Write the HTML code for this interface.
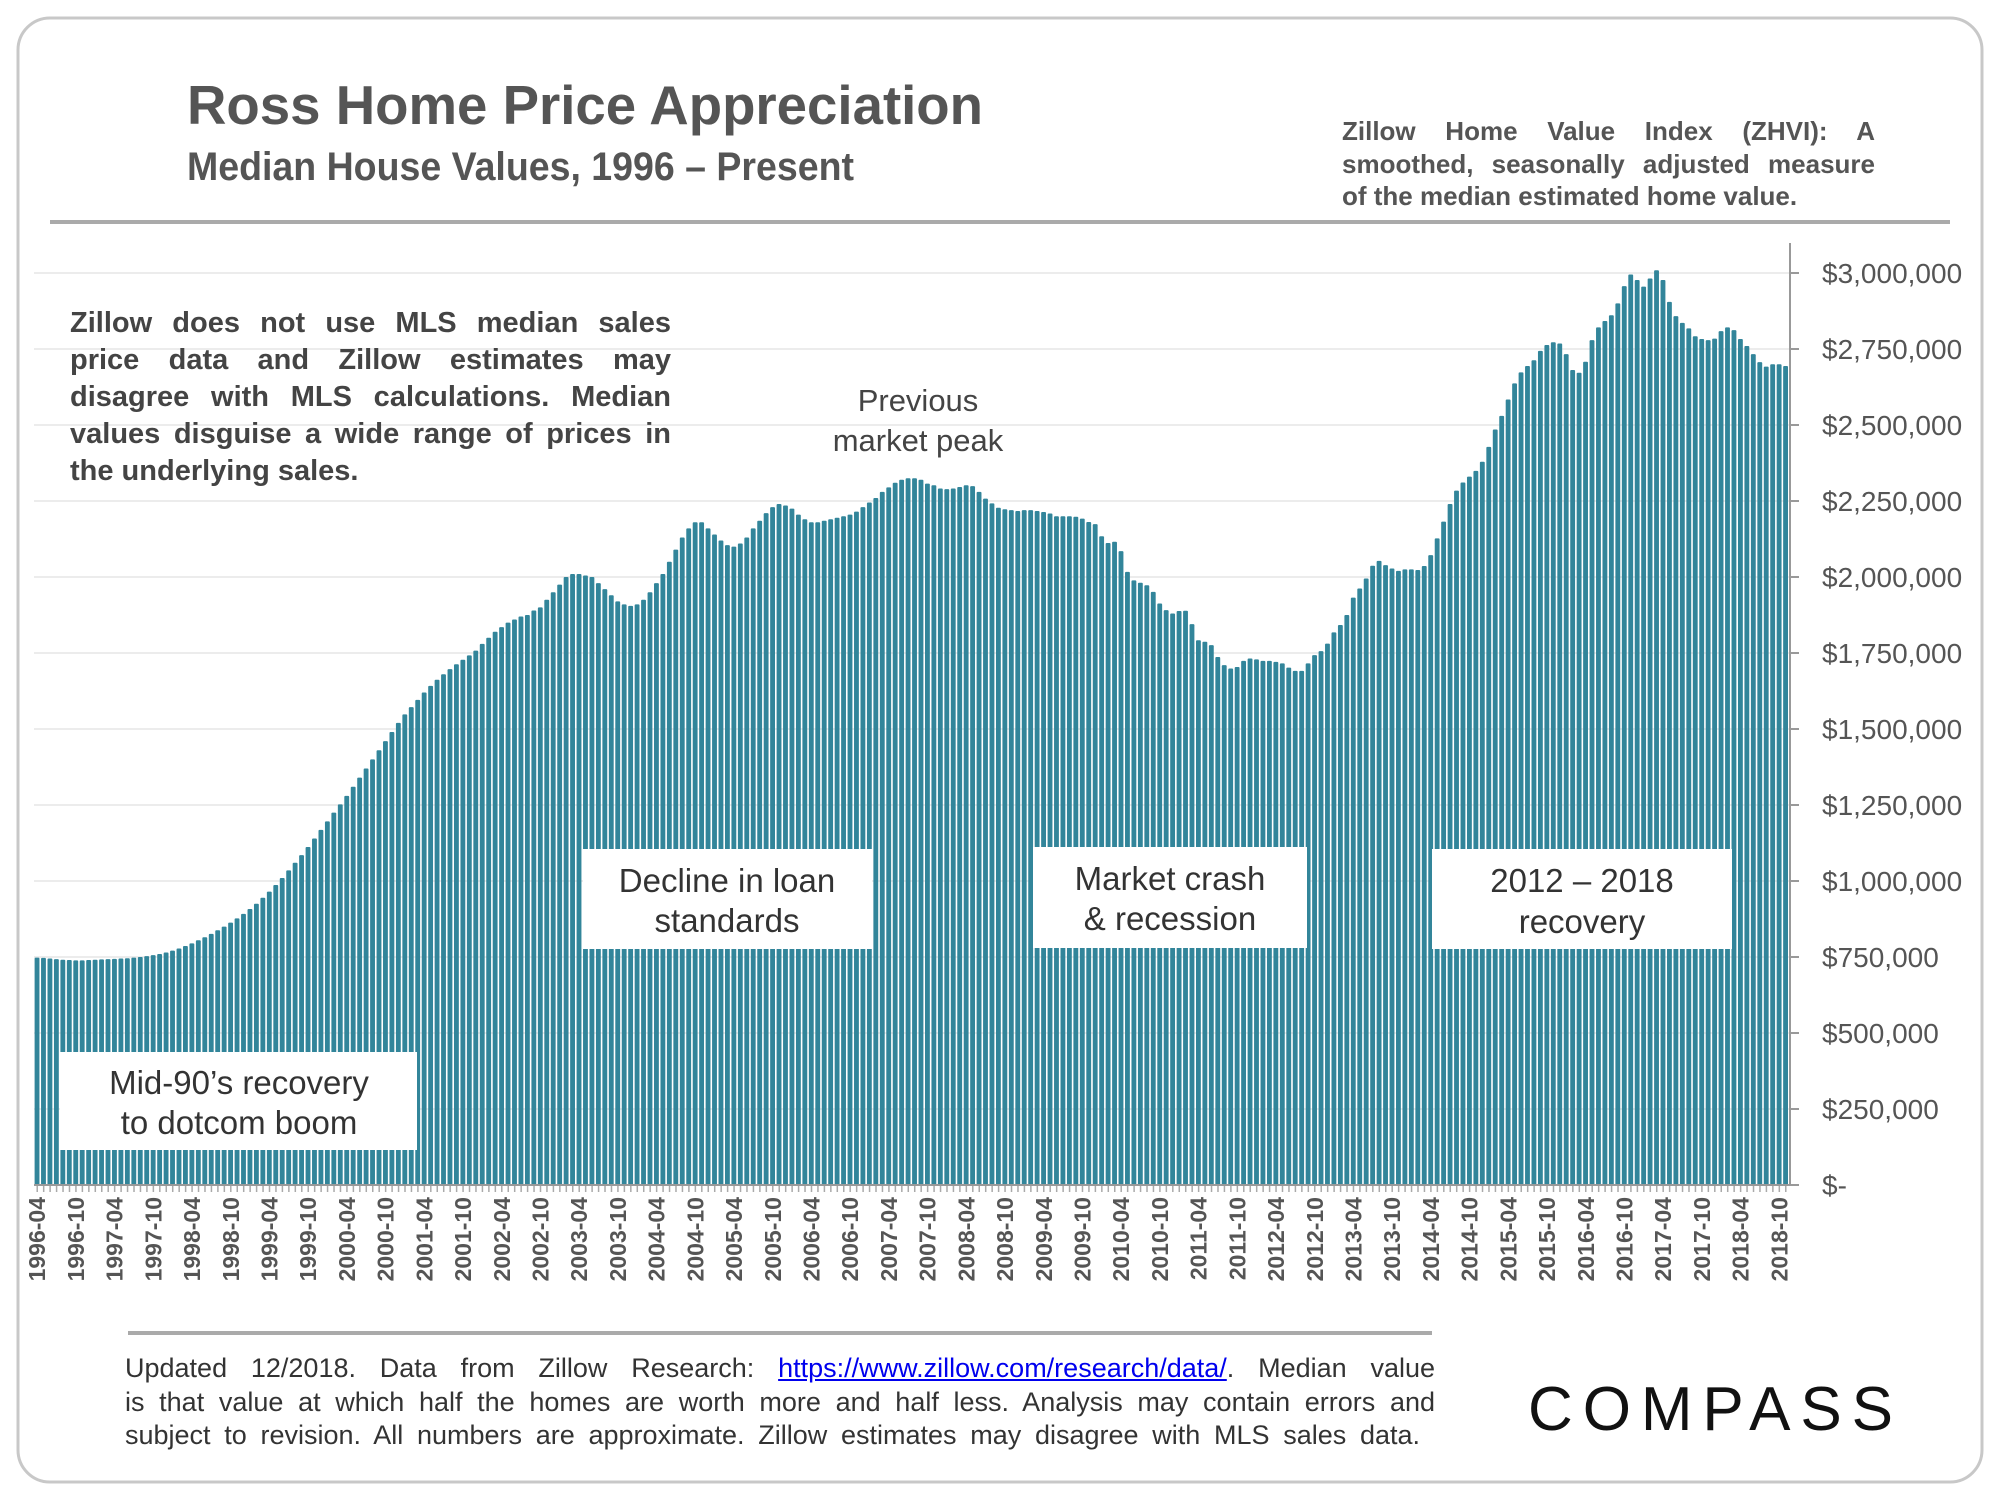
<!DOCTYPE html>
<html><head><meta charset="utf-8"><style>
html,body{margin:0;padding:0;background:#fff}
body{position:relative;width:2000px;height:1500px;overflow:hidden}
svg{display:block;font-family:"Liberation Sans",sans-serif;position:absolute;left:0;top:0}
.note{position:absolute;font-family:"Liberation Sans",sans-serif;text-align:justify}
.note .j{text-align:justify;text-align-last:justify;white-space:nowrap}
.note .l{text-align:left;white-space:nowrap}
</style></head><body>
<svg id="chart" width="2000" height="1500" viewBox="0 0 2000 1500">
<rect x="18" y="18" width="1964" height="1464" rx="32" fill="#fff" stroke="#c8c8c8" stroke-width="3"/>
<text x="187" y="124" font-size="55" font-weight="bold" fill="#555" textLength="796" lengthAdjust="spacingAndGlyphs">Ross Home Price Appreciation</text>
<text x="187" y="180" font-size="40" font-weight="bold" fill="#555" font-family="Liberation Sans Narrow, Liberation Sans, sans-serif" textLength="667" lengthAdjust="spacingAndGlyphs">Median House Values, 1996 – Present</text>
<rect x="50" y="220" width="1900" height="4" fill="#aaa"/>
<g id="grid"></g>
<g id="bars"></g>
<g id="axes"></g>
<g font-size="31" fill="#444" text-anchor="middle">
<text x="918" y="411">Previous</text>
<text x="918" y="451">market peak</text>
</g>
<g>
<rect x="60" y="1052" width="357" height="98" fill="#fff"/>
<text x="239" y="1094" font-size="33" fill="#333" text-anchor="middle">Mid-90’s recovery</text>
<text x="239" y="1134" font-size="33" fill="#333" text-anchor="middle">to dotcom boom</text>
</g>
<g>
<rect x="583" y="849" width="289" height="100" fill="#fff"/>
<text x="727" y="892" font-size="33" fill="#333" text-anchor="middle">Decline in loan</text>
<text x="727" y="932" font-size="33" fill="#333" text-anchor="middle">standards</text>
</g>
<g>
<rect x="1033" y="847" width="274" height="101" fill="#fff"/>
<text x="1170" y="890" font-size="33" fill="#333" text-anchor="middle">Market crash</text>
<text x="1170" y="930" font-size="33" fill="#333" text-anchor="middle">&amp; recession</text>
</g>
<g>
<rect x="1432" y="849" width="300" height="100" fill="#fff"/>
<text x="1582" y="892" font-size="33" fill="#333" text-anchor="middle">2012 – 2018</text>
<text x="1582" y="933" font-size="33" fill="#333" text-anchor="middle">recovery</text>
</g>
<rect x="128" y="1331" width="1304" height="4" fill="#aaa"/>
<text x="1528" y="1430" font-size="62" fill="#111" textLength="365" lengthAdjust="spacing">COMPASS</text>
</svg>
<div class="note" style="left:1342px;top:115px;width:533px;font-size:26px;line-height:32.5px;font-weight:bold;color:#555">
<div class="j">Zillow Home Value Index (ZHVI): A</div>
<div class="j">smoothed, seasonally adjusted measure</div>
<div class="l">of the median estimated home value.</div>
</div>
<div class="note" style="left:70px;top:305px;width:601px;font-size:29px;line-height:37px;font-weight:bold;color:#444">
<div class="j">Zillow does not use MLS median sales</div>
<div class="j">price data and Zillow estimates may</div>
<div class="j">disagree with MLS calculations. Median</div>
<div class="j">values disguise a wide range of prices in</div>
<div class="l">the underlying sales.</div>
</div>
<div class="note" style="left:125px;top:1352px;width:1310px;font-size:27px;line-height:33.5px;color:#333">
<div class="j">Updated 12/2018. Data from Zillow Research: <a style="color:#0000ee;text-decoration:underline">https://www.zillow.com/research/data/</a>. Median value</div>
<div class="j">is that value at which half the homes are worth more and half less. Analysis may contain errors and</div>
<div class="j" style="width:1295px">subject to revision. All numbers are approximate. Zillow estimates may disagree with MLS sales data.</div>
</div>
<script>
const values = [
748,747,745,743,741,740,739,739,740,
741,742,743,744,745,746,748,750,753,756,760,765,
771,778,786,795,805,815,826,838,850,863,877,892,
908,925,945,965,987,1010,1035,1060,1085,1112,1140,1168,
1196,1225,1252,1280,1310,1340,1370,1400,1430,1460,1490,1520,
1548,1572,1596,1620,1642,1662,1680,1697,1713,1728,1742,1758,
1780,1800,1820,1835,1850,1860,1870,1875,1890,1900,
1925,1950,1975,2000,2010,2010,2005,2000,1980,1960,
1940,1920,1910,1905,1910,1925,1950,1980,2010,2050,
2090,2130,2160,2180,2180,2160,2140,2120,2105,2100,
2110,2130,2160,2185,2210,2230,2240,2235,2225,2205,
2190,2180,2180,2185,2190,2195,2200,2205,2215,2230,
2245,2260,2280,2295,2310,2320,2325,2325,2320,
2307,2302,2291,2289,2291,2296,2302,2299,2280,2258,
2242,2228,2223,2220,2217,2220,2220,2217,2214,2209,
2200,2200,2200,2198,2192,2181,2174,2134,2112,2116,
2085,2017,1989,1981,1973,1951,1913,1891,1880,1888,
1889,1845,1792,1787,1776,1737,1710,1699,1704,
1724,1732,1729,1724,1724,1721,1716,1702,1691,1691,
1716,1743,1756,1781,1818,1842,1875,1932,1962,1995,
2037,2053,2039,2028,2020,2025,2025,2023,2036,2072,
2127,2182,2240,2284,2311,2330,2349,2379,2428,2485,
2530,
2584,2637,2673,2694,2713,2744,2763,2772,2768,2733,
2681,2672,2708,2779,2821,2842,2861,2900,2957,2995,
2977,2955,2982,3009,2977,2905,2858,2836,2818,2792,
2783,2779,2784,2809,2821,2812,2783,2760,2733,2707,
2692,2700,2700,2694
];
const xTickLabels = ["1996-04","1996-10","1997-04","1997-10","1998-04","1998-10","1999-04","1999-10","2000-04","2000-10","2001-04","2001-10","2002-04","2002-10","2003-04","2003-10","2004-04","2004-10","2005-04","2005-10","2006-04","2006-10","2007-04","2007-10","2008-04","2008-10","2009-04","2009-10","2010-04","2010-10","2011-04","2011-10","2012-04","2012-10","2013-04","2013-10","2014-04","2014-10","2015-04","2015-10","2016-04","2016-10","2017-04","2017-10","2018-04","2018-10"];
const yTickValues = [0,250,500,750,1000,1250,1500,1750,2000,2250,2500,2750,3000];
const yTickLabels = ["$-","$250,000","$500,000","$750,000","$1,000,000","$1,250,000","$1,500,000","$1,750,000","$2,000,000","$2,250,000","$2,500,000","$2,750,000","$3,000,000"];

const NS = "http://www.w3.org/2000/svg";
const x0 = 34, x1 = 1789, yBase = 1185, yTop = 273;
const step = (x1 - x0) / values.length;
function xPos(i){ return x0 + i * step; }
function yPos(v){ return yBase - (v / 3000) * (yBase - yTop); }
function mk(tag, attrs, parent){
  const e = document.createElementNS(NS, tag);
  for (const k in attrs) e.setAttribute(k, attrs[k]);
  parent.appendChild(e);
  return e;
}
const grid = document.getElementById('grid');
const bars = document.getElementById('bars');
const axes = document.getElementById('axes');

yTickValues.forEach((v, k) => {
  const y = yPos(v);
  if (v > 0) {
    const g = mk('line', {x1: x0, x2: 1790, y1: y, y2: y, stroke: '#ececec', 'stroke-width': 2}, grid);
    
    
  }
  const t = mk('line', {x1: 1790, x2: 1799, y1: y, y2: y, stroke: '#999', 'stroke-width': 2}, axes);
  
  
  const lab = mk('text', {x: 1822, y: y + 10, 'font-size': 28, fill: '#555'}, axes);
  
  
  lab.textContent = yTickLabels[k];
});

values.forEach((v, i) => {
  const y = yPos(v);
  const r = mk('rect', {x: xPos(i) + 0.6, y: y, width: step - 1.6, height: yBase - y, fill: '#32859a', rx: 1}, bars);
  
  
  const mt = mk('line', {x1: xPos(i) + step/2, x2: xPos(i) + step/2, y1: yBase, y2: yBase + 7, stroke: '#aaa', 'stroke-width': 1.5}, axes);
  
  
});

const ax = mk('line', {x1: 1790, x2: 1790, y1: 243, y2: yBase, stroke: '#999', 'stroke-width': 2}, axes);


const bx = mk('line', {x1: x0, x2: 1799, y1: yBase, y2: yBase, stroke: '#999', 'stroke-width': 2}, axes);



xTickLabels.forEach((s, k) => {
  const cx = xPos(k * 6) + step / 2 + 8;
  const t = mk('text', {x: cx, y: 1197, 'font-size': 23, 'font-weight': 'bold', fill: '#555', 'text-anchor': 'end', transform: 'rotate(-90 ' + cx + ' 1197)'}, axes);
  
  
  t.textContent = s;
});
</script>
</body></html>
